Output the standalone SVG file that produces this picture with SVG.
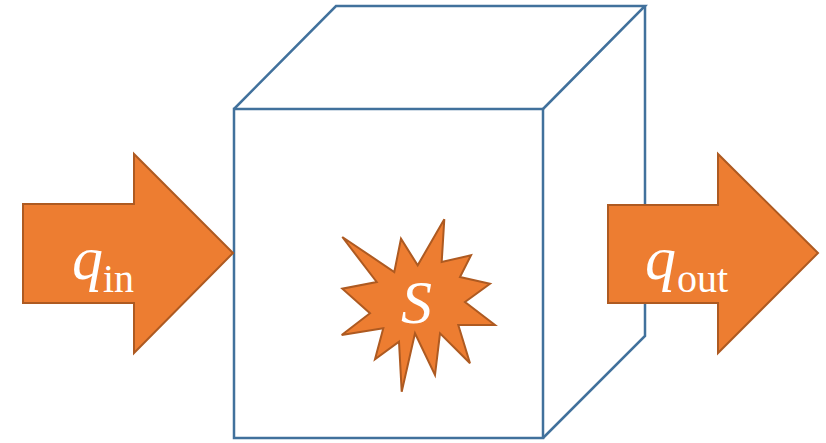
<svg xmlns="http://www.w3.org/2000/svg" width="826" height="443" viewBox="0 0 826 443">
<style>
.edge{fill:none;stroke:#41719C;stroke-width:2.5;stroke-linejoin:miter}
.orange{fill:#ED7D31;stroke:#AE5A21;stroke-width:2;stroke-linejoin:miter}
.lbl{fill:#FFFFFF;font-family:"Liberation Serif","Times New Roman",serif}
.it{font-style:italic}
</style>
<rect width="826" height="443" fill="#FFFFFF"/>
<g id="cube">
<rect class="edge" x="234" y="109" width="309" height="329"/>
<polyline class="edge" points="234,109 336,6 645,6 543,109"/>
<polyline class="edge" points="645,6 645,336 543,438"/>
</g>
<g id="source">
<polygon class="orange" points="342.3,237 394.3,272 401,238.7 417.7,265.3 444.3,219.3 441.7,262 471,255.3 460,277 490,283.7 465,302 495,325 458.3,325 470,363.3 440,333.3 435,375 415,333.3 401.7,391.7 399,341.7 375,359.3 383.3,328.3 341.7,335 370,313.3 342.3,288.7 376.7,282"/>
<text class="lbl it" x="401" y="323" font-size="62">S</text>
</g>
<g id="q_in">
<polygon class="orange" points="23,204 134,204 134,154 233,253 134,353 134,303 23,303"/>
<text class="lbl it" x="72" y="279" font-size="62">q</text>
<text class="lbl" x="103" y="292" font-size="40">in</text>
</g>
<g id="q_out">
<polygon class="orange" points="608,205 718,205 718,154 818,253 718,353 718,303 608,303"/>
<text class="lbl it" x="645" y="279" font-size="62">q</text>
<text class="lbl" x="677" y="292" font-size="40">out</text>
</g>
<g id="connectors"></g>
</svg>
